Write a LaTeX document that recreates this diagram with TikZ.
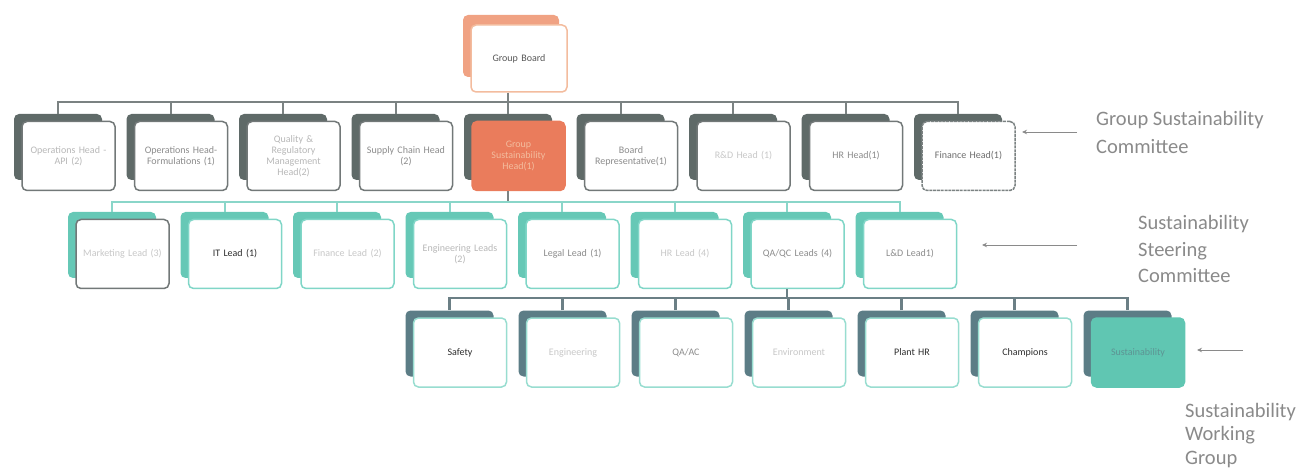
\documentclass[tikz,border=0pt]{standalone}
\usepackage{fontspec}
\setmainfont{Carlito}
\usetikzlibrary{arrows.meta}
\definecolor{darkback}{HTML}{5F6A68}
\definecolor{r1border}{HTML}{727878}
\definecolor{busgray}{HTML}{7B8282}
\definecolor{gbback}{HTML}{F0A283}
\definecolor{gbborder}{HTML}{F3BC9E}
\definecolor{orangefill}{HTML}{EA7C5C}
\definecolor{tealback}{HTML}{66C8B6}
\definecolor{tealborder}{HTML}{80D6C7}
\definecolor{tealbus}{HTML}{8AD6C9}
\definecolor{slateback}{HTML}{5C7D86}
\definecolor{r3border}{HTML}{98DDD0}
\definecolor{slatebus}{HTML}{6B7F85}
\definecolor{sustfill}{HTML}{60C6B2}
\definecolor{labgray}{HTML}{8A8A8A}
\definecolor{txdark}{HTML}{2E2E2E}
\definecolor{txmid}{HTML}{8C8C8C}
\definecolor{txlight}{HTML}{B8B8B8}
\definecolor{txpale}{HTML}{C8C8C8}
\newcommand\mkcard[6]{%
  \node[#4] (#1-b) at (#2-10.5,#3-9) {};
  \node[#5] (#1) at (#2,#3) {#6};}
\begin{document}
\begin{tikzpicture}[x=1pt,y=-1pt,
  backbox/.style={rectangle, rounded corners=5pt, minimum width=88pt, minimum height=66pt, inner sep=0pt},
  frontbox/.style={rectangle, rounded corners=5pt, minimum width=93pt, minimum height=69pt, text width=86pt, align=center, inner sep=0pt, fill=white, line width=1.5pt, font=\fontsize{10}{11}\selectfont, text=txmid},
  r1b/.style={backbox, fill=darkback},
  r1f/.style={frontbox, draw=r1border},
  r2b/.style={backbox, fill=tealback},
  r2f/.style={frontbox, draw=tealborder},
  r3b/.style={backbox, fill=slateback},
  r3f/.style={frontbox, draw=r3border},
  bus1/.style={draw=busgray, line width=2pt},
  bus2/.style={draw=tealbus, line width=2pt},
  bus3/.style={draw=slatebus, line width=2.2pt},
  lab/.style={inner sep=0pt, align=left, text=labgray},
  arr/.style={draw=labgray, line width=0.9pt, -{Stealth[length=5pt,width=4.5pt]}}
]
\useasboundingbox (0,0) rectangle (1298,470);

% top
\node[backbox, fill=gbback, minimum width=96pt, minimum height=62pt] (gb-b) at (511,46) {};
\node[frontbox, draw=gbborder, minimum width=96pt, minimum height=67pt, text=txdark!80] (gb) at (519,58.5) {Group Board};

% row 1
\mkcard{r1a}{68.5}{156}{r1b}{r1f, text=txlight}{Operations Head -\\API (2)}
\mkcard{r1b}{181}{156}{r1b}{r1f}{Operations Head-\\Formulations (1)}
\mkcard{r1c}{293.5}{156}{r1b}{r1f, text=txlight}{Quality \&\\Regulatory\\Management\\Head(2)}
\mkcard{r1d}{406}{156}{r1b}{r1f}{Supply Chain Head\\(2)}
\mkcard{r1e}{518.5}{156}{r1b}{frontbox, fill=orangefill, draw=orangefill, text=gbborder}{Group\\Sustainability\\Head(1)}
\mkcard{r1f}{631}{156}{r1b}{r1f}{Board\\Representative(1)}
\mkcard{r1g}{743.5}{156}{r1b}{r1f, text=txpale}{R\&D Head (1)}
\mkcard{r1h}{856}{156}{r1b}{r1f}{HR Head(1)}
\mkcard{r1i}{968.5}{156}{r1b}{r1f, draw=busgray, dash pattern=on 3pt off 0.8pt, text=txdark!70}{Finance Head(1)}

% row 2
\mkcard{r2a}{122.5}{254}{r2b}{r2f, draw=r1border, text=txpale}{Marketing Lead (3)}
\mkcard{r2b}{235}{254}{r2b}{r2f, text=txdark}{IT Lead (1)}
\mkcard{r2c}{347.5}{254}{r2b}{r2f, text=txpale}{Finance Lead (2)}
\mkcard{r2d}{460}{254}{r2b}{r2f, text=txlight}{Engineering Leads\\(2)}
\mkcard{r2e}{572.5}{254}{r2b}{r2f}{Legal Lead (1)}
\mkcard{r2f}{685}{254}{r2b}{r2f, text=txpale}{HR Lead (4)}
\mkcard{r2g}{797.5}{254}{r2b}{r2f}{QA/QC Leads (4)}
\mkcard{r2h}{910}{254}{r2b}{r2f}{L\&D Lead1)}

% row 3
\mkcard{r3a}{460}{352.5}{r3b}{r3f, text=txdark}{Safety}
\mkcard{r3b}{573}{352.5}{r3b}{r3f, text=txpale}{Engineering}
\mkcard{r3c}{686}{352.5}{r3b}{r3f}{QA/AC}
\mkcard{r3d}{799}{352.5}{r3b}{r3f, text=txpale}{Environment}
\mkcard{r3e}{912}{352.5}{r3b}{r3f, text=txdark}{Plant HR}
\mkcard{r3f}{1025}{352.5}{r3b}{r3f, text=txdark}{Champions}
\mkcard{r3g}{1138}{352.5}{r3b}{frontbox, fill=sustfill, draw=sustfill, text=slateback!70!sustfill}{Sustainability}

% connectors row 1
\draw[bus1] (gb.south -| r1e-b.north) -- (r1e-b.north);
\draw[bus1] (r1a-b.north) -- (r1a-b.north |- 0,102) -- (r1i-b.north |- 0,102) -- (r1i-b.north);
\foreach \n in {b,c,d,f,g,h} \draw[bus1] (r1\n-b.north) -- (r1\n-b.north |- 0,102);

% connectors row 2
\draw[bus1] (r1e.south -| r1e-b.north) -- (r1e-b.north |- 0,202);
\draw[bus2] (r2a-b.north) -- (r2a-b.north |- 0,202) -- (r2h-b.north |- 0,202) -- (r2h-b.north);
\foreach \n in {b,c,d,e,f,g} \draw[bus2] (r2\n-b.north) -- (r2\n-b.north |- 0,202);

% connectors row 3
\draw[bus3] (r2g.south -| r2g-b.north) -- (r2g-b.north |- 0,298);
\draw[bus3] (r3a-b.north) -- (r3a-b.north |- 0,298) -- (r3g-b.north |- 0,298) -- (r3g-b.north);
\foreach \n in {b,c,d,e,f} \draw[bus3] (r3\n-b.north) -- (r3\n-b.north |- 0,298);

% labels
\node[lab, anchor=north west, font=\fontsize{20.5}{28}\selectfont] (l1) at (1096,111.5) {Group Sustainability\\Committee};
\node[lab, anchor=north west, font=\fontsize{20.5}{26.5}\selectfont] (l2) at (1138,215.5) {Sustainability\\Steering\\Committee};
\node[lab, anchor=north west, font=\fontsize{20.5}{23.5}\selectfont] (l3) at (1185,403) {Sustainability\\Working\\Group};

\coordinate (a1s) at (1077,132); \coordinate (a1e) at (1022,132);
\coordinate (a2s) at (1077,245); \coordinate (a2e) at (982,245);
\coordinate (a3s) at (1243,350); \coordinate (a3e) at (1197,350);
\draw[arr] (a1s) -- (a1e);
\draw[arr] (a2s) -- (a2e);
\draw[arr] (a3s) -- (a3e);
\end{tikzpicture}
\end{document}
